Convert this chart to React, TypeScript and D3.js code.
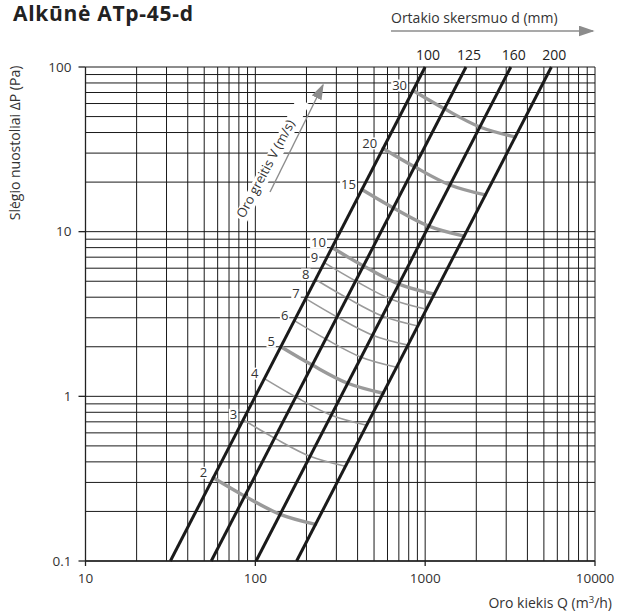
import React from 'react';
import * as d3 from 'd3';

// chart values
const diameters = [100, 125, 160, 200];            // mm
const qAtMinLoss = [31.6, 55, 101, 175];           // m3/h where each duct line hits 0.1 Pa
const velocities = [2, 3, 4, 5, 6, 7, 8, 9, 10, 15, 20, 30]; // m/s
const boldVelocities = [2, 5, 10, 15, 20, 30];
// the drawn velocity curves sag a little below the ideal crossing on the middle ducts
const curveLossFactor = [1, 0.96, 0.935, 1];
const xTicks = [10, 100, 1000, 10000];
const yTicks = [0.1, 1, 10, 100];
const xTickLabels = ['10', '100', '1000', '10000'];
const yTickLabels = ['0.1', '1', '10', '100'];

const W = 624, H = 615;
const FONT = '"Open Sans", "DejaVu Sans", sans-serif';

export default function App() {
  const x = d3.scaleLog().domain([10, 10000]).range([85.5, 595]);
  const y = d3.scaleLog().domain([0.1, 100]).range([561, 67]);

  // minor grid: 1..9 x each decade
  const xGrid: number[] = [];
  for (let e = 1; e < 4; e++) for (let m = 1; m <= 9; m++) xGrid.push(m * 10 ** e);
  xGrid.push(10000);
  const yGrid: number[] = [];
  for (let e = -1; e < 2; e++) for (let m = 1; m <= 9; m++) yGrid.push(+(m * 10 ** e).toFixed(3));
  yGrid.push(100);

  // duct line: dP = 0.1 * (Q / q0)^2
  const lossAt = (i: number, q: number) => 0.1 * (q / qAtMinLoss[i]) ** 2;
  const flowOnLine = (i: number, p: number) => qAtMinLoss[i] * Math.sqrt(p / 0.1);
  const flowAt = (v: number, d: number) => v * Math.PI * (d / 1000) ** 2 / 4 * 3600;

  const line = d3.line<[number, number]>().x(d => x(d[0])).y(d => y(d[1]));
  const curve = d3.line<[number, number]>()
    .x(d => x(d[0])).y(d => y(d[1]))
    .curve(d3.curveCatmullRom.alpha(0.5));

  const ductLines = diameters.map((d, i) => {
    const q0 = qAtMinLoss[i];
    return { d, pts: [[q0, 0.1], [q0 * 10 ** 1.5, 100]] as [number, number][] };
  });

  const speedCurves = velocities.map(v => {
    const pts = diameters.map((d, i) => {
      const p = lossAt(i, flowAt(v, d)) * curveLossFactor[i];
      return [flowOnLine(i, p), p] as [number, number];
    });
    return { v, pts, bold: boldVelocities.includes(v) };
  });

  const gridColor = '#1a1a1a';

  return (
    <svg width={W} height={H} style={{ position: 'absolute', left: 0, top: 0, background: '#fff' }}
      fontFamily={FONT}>
      <defs>
        <marker id="arr" viewBox="0 0 10 10" refX="9" refY="5" markerWidth="16" markerHeight="11"
          orient="auto" markerUnits="userSpaceOnUse" preserveAspectRatio="none">
          <path d="M0,0 L10,5 L0,10 z" fill="#8c8c8c" />
        </marker>
      </defs>

      <text x={13} y={21} fontSize={21} fontWeight={700} fill="#222" letterSpacing={0.7}>Alkūnė ATp-45-d</text>

      {/* grid */}
      <g stroke={gridColor} strokeWidth={1}>
        {xGrid.map(q => <line key={'gx' + q} x1={x(q)} x2={x(q)} y1={y(100)} y2={y(0.1)} />)}
        {yGrid.map(p => <line key={'gy' + p} x1={x(10)} x2={x(10000)} y1={y(p)} y2={y(p)} />)}
      </g>

      {/* axes */}
      <g stroke="#222" strokeWidth={1.3}>
        <line x1={x(10)} x2={x(10)} y1={y(100)} y2={y(0.1)} />
        <line x1={x(10)} x2={x(10000)} y1={y(0.1)} y2={y(0.1)} />
        {yTicks.map(p => <line key={'ty' + p} x1={x(10) - 7} x2={x(10)} y1={y(p)} y2={y(p)} />)}
        {xTicks.map(q => <line key={'tx' + q} x1={x(q)} x2={x(q)} y1={y(0.1)} y2={y(0.1) + 5} />)}
      </g>
      <g fontSize={13.5} fill="#333">
        {yTicks.map((p, i) => (
          <text key={'ly' + p} x={x(10) - 14} y={y(p)} dy="0.35em" textAnchor="end">{yTickLabels[i]}</text>
        ))}
        {xTicks.map((q, i) => (
          <text key={'lx' + q} x={x(q)} y={y(0.1) + 22} textAnchor="middle">{xTickLabels[i]}</text>
        ))}
      </g>

      <text transform="translate(20,143) rotate(-90)" textAnchor="middle" fontSize={14} fill="#333">
        Slėgio nuostoliai ΔP (Pa)
      </text>
      <text x={612} y={608} textAnchor="end" fontSize={14} fill="#333">
        Oro kiekis Q (m<tspan fontSize={9.5} dy={-5}>3</tspan><tspan dy={5}>/h)</tspan>
      </text>

      {/* velocity curves */}
      <g fill="none" stroke="#9a9a9a" strokeLinecap="round">
        {speedCurves.map(c => (
          <path key={'v' + c.v} d={curve(c.pts) ?? ''} strokeWidth={c.bold ? 3.4 : 1.6} />
        ))}
      </g>

      {/* velocity labels */}
      <g fontSize={13} fill="#333">
        {speedCurves.map(c => {
          const [q, p] = c.pts[0];
          const tx = x(q) - 6, ty = y(p) - 5;
          const w = String(c.v).length * 7.4;
          return (
            <g key={'lv' + c.v}>
              <rect x={tx - w - 1} y={ty - 6} width={w + 2} height={12} fill="#fff" />
              <text x={tx} y={ty} dy="0.35em" textAnchor="end">{c.v}</text>
            </g>
          );
        })}
      </g>

      {/* duct diameter lines */}
      <g fill="none" stroke="#1a1a1a" strokeWidth={3}>
        {ductLines.map(l => <path key={'d' + l.d} d={line(l.pts) ?? ''} />)}
      </g>
      <g fontSize={14} fill="#222" textAnchor="middle">
        {ductLines.map(l => (
          <text key={'ld' + l.d} x={x(l.pts[1][0]) + 3} y={y(100) - 7}>{l.d}</text>
        ))}
      </g>

      {/* header arrow */}
      <text x={391} y={23} fontSize={14} fill="#333">Ortakio skersmuo d (mm)</text>
      <line x1={391} x2={593} y1={31} y2={31} stroke="#8c8c8c" strokeWidth={1.6} markerEnd="url(#arr)" />

      {/* velocity arrow */}
      <g>
        <rect x={-2} y={-10} width={134} height={14} fill="#fff" transform="translate(244,219) rotate(-62)" />
        <text transform="translate(244,219) rotate(-62)" fontSize={13} fill="#333">Oro greitis V (m/s)</text>
        <line x1={270} y1={192} x2={323} y2={85} stroke="#8c8c8c" strokeWidth={1.4} markerEnd="url(#arr)" />
      </g>
    </svg>
  );
}
